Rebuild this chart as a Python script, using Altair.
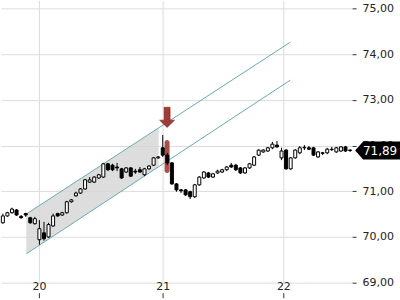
import altair as alt
import pandas as pd
import numpy as np

# ---- candle data (index = bar number, 0 = first bar of day 20) ----
idx = list(range(-8, 69))
opens = [70.31, 70.46, 70.53, 70.59, 70.45, 70.51, 70.42, 70.29,
         69.94, 70.09, 70.00, 70.24, 70.51, 70.48, 70.53, 70.77, 70.90, 70.96,
         71.05, 71.20, 71.20, 71.29, 71.31, 71.60, 71.57, 71.53, 71.49, 71.42,
         71.51, 71.44, 71.47, 71.36, 71.49, 71.57, 71.73,
         71.95, 71.79, 71.62, 71.16, 71.03, 71.03, 70.99, 70.88, 71.14, 71.29,
         71.40, 71.31, 71.40, 71.42, 71.47, 71.57, 71.57, 71.51, 71.40, 71.51,
         71.57, 71.79, 71.86, 71.88, 71.95, 72.01,
         71.73, 71.90, 71.49, 71.73, 71.84, 71.95, 71.95, 71.95, 71.75, 71.84,
         71.84, 71.91, 71.86, 71.88, 71.97, 71.90]
highs = [70.51, 70.55, 70.64, 70.61, 70.48, 70.53, 70.44, 70.44,
         70.37, 70.33, 70.31, 70.51, 70.53, 70.55, 70.79, 70.83, 70.99, 71.07,
         71.27, 71.31, 71.33, 71.38, 71.62, 71.62, 71.60, 71.62, 71.51, 71.53,
         71.53, 71.49, 71.53, 71.51, 71.57, 71.75, 71.77,
         72.23, 71.84, 71.64, 71.18, 71.05, 71.05, 71.01, 71.16, 71.33, 71.44,
         71.42, 71.40, 71.47, 71.49, 71.55, 71.62, 71.60, 71.53, 71.53, 71.62,
         71.77, 71.92, 71.92, 71.97, 72.08, 72.10,
         71.95, 71.92, 71.75, 71.92, 71.99, 72.01, 71.99, 71.97, 71.88, 71.86,
         71.95, 71.97, 71.97, 71.99, 71.99, 71.92]
lows = [70.29, 70.44, 70.51, 70.46, 70.40, 70.44, 70.29, 70.27,
        69.83, 69.92, 69.98, 70.22, 70.44, 70.46, 70.51, 70.75, 70.88, 70.94,
        71.03, 71.18, 71.18, 71.27, 71.29, 71.44, 71.44, 71.44, 71.27, 71.40,
        71.31, 71.38, 71.40, 71.33, 71.47, 71.55, 71.71,
        71.75, 71.57, 71.14, 70.99, 70.96, 70.90, 70.83, 70.85, 71.12, 71.27,
        71.29, 71.29, 71.38, 71.40, 71.44, 71.51, 71.44, 71.38, 71.38, 71.49,
        71.55, 71.77, 71.84, 71.86, 71.92, 71.95,
        71.68, 71.47, 71.47, 71.71, 71.81, 71.90, 71.90, 71.77, 71.73, 71.79,
        71.81, 71.88, 71.84, 71.86, 71.86, 71.86]
closes = [70.46, 70.53, 70.61, 70.48, 70.42, 70.48, 70.31, 70.40,
          70.18, 69.96, 70.27, 70.46, 70.46, 70.53, 70.77, 70.81, 70.96, 71.05,
          71.25, 71.25, 71.31, 71.36, 71.60, 71.47, 71.47, 71.51, 71.29, 71.51,
          71.33, 71.42, 71.42, 71.49, 71.55, 71.73, 71.75,
          71.79, 71.62, 71.16, 71.03, 71.01, 70.92, 70.88, 71.14, 71.31, 71.42,
          71.31, 71.38, 71.44, 71.47, 71.53, 71.53, 71.47, 71.40, 71.51, 71.60,
          71.75, 71.90, 71.90, 71.95, 72.03, 71.97,
          71.88, 71.49, 71.73, 71.90, 71.95, 71.96, 71.92, 71.79, 71.86, 71.83,
          71.92, 71.92, 71.95, 71.97, 71.88, 71.89]

# ---- axis ticks ----
day_labels = ["20", "21", "22"]
day_pos = [-0.1, 27.0, 53.4]
price_ticks = [69, 70, 71, 72, 73, 74, 75]

# ---- regression channel ----
chan_x = [-2.88, 54.91]
chan_upper = [70.50, 74.26]
chan_lower = [69.63, 73.43]
fill_end_x = 26.1

# ---- annotations ----
arrow_x, arrow_y = [27.95], [72.62]
hl_x, hl_x2, hl_y, hl_y2 = [27.40], [28.49], [72.12], [71.40]
last_price = closes[-1]

XDOM = [-8.406, 68.45]
YDOM = [69.0, 75.175]
xs = alt.Scale(domain=XDOM, nice=False, zero=False, padding=0)
ys = alt.Scale(domain=YDOM, nice=False, zero=False, padding=0)

df = pd.DataFrame({"i": idx, "open": opens, "high": highs, "low": lows, "close": closes})
df["dir"] = np.where(df["close"] >= df["open"], "up", "down")

label_expr = " : ".join(
    f"abs(datum.value - ({p})) < 0.5 ? '{l}'" for p, l in zip(day_pos, day_labels)
) + " : ''"

X_AX = alt.Axis(values=day_pos, labelExpr=label_expr, grid=True,
                gridColor="#dcdcdc", domain=False, tickSize=5,
                tickColor="#333", offset=10, labelPadding=-6,
                labelBaseline="bottom", labelFontSize=11,
                labelFont="DejaVu Sans", labelColor="#222")
Y_AX = alt.Axis(orient="right", values=price_ticks, grid=True,
                gridColor="#dcdcdc", domain=False, tickSize=4,
                tickColor="#333", labelPadding=6, labelFontSize=11,
                labelFont="DejaVu Sans", labelColor="#222",
                labelExpr="replace(format(datum.value, '.2f'), '.', ',')")


def X(f):
    return alt.X(f, type="quantitative", scale=xs, axis=X_AX, title=None)


def Y(f):
    return alt.Y(f, type="quantitative", scale=ys, axis=Y_AX, title=None)


fx = [chan_x[0], fill_end_x]
fill_df = pd.DataFrame({
    "i": fx,
    "u": np.interp(fx, chan_x, chan_upper),
    "l": np.interp(fx, chan_x, chan_lower),
})
fill = alt.Chart(fill_df).mark_area(color="#d4d4d4", opacity=0.8).encode(
    x=X("i"), y=Y("u"), y2="l:Q",
)

line_df = pd.DataFrame({
    "i": chan_x * 2,
    "v": chan_upper + chan_lower,
    "side": ["upper"] * 2 + ["lower"] * 2,
})
lines = alt.Chart(line_df).mark_line(color="#6aa9b0", strokeWidth=1).encode(
    x=X("i"), y=Y("v"), detail="side:N",
)

hl_df = pd.DataFrame({"x": hl_x, "x2": hl_x2, "y": hl_y, "y2": hl_y2})
highlight = alt.Chart(hl_df).mark_rect(color="#a23b33", opacity=0.9, cornerRadius=3).encode(
    x=X("x"), x2="x2:Q", y=Y("y"), y2="y2:Q",
)

wicks = alt.Chart(df).mark_rule(color="black", strokeWidth=1).encode(
    x=X("i"), y=Y("low"), y2="high:Q",
)
bodies = alt.Chart(df).mark_bar(size=3, stroke="black", strokeWidth=1).encode(
    x=X("i"), y=Y("open"), y2="close:Q",
    fill=alt.Fill("dir:N", scale=alt.Scale(domain=["up", "down"], range=["white", "black"]), legend=None),
)

arrow_df = pd.DataFrame({"x": arrow_x, "y": arrow_y})
arrow_path = "M-0.4,-1.33 L0.4,-1.33 L0.4,0.4 L1,0.4 L0,1.37 L-1,0.4 L-0.4,0.4 Z"
arrow = alt.Chart(arrow_df).mark_point(
    shape=arrow_path, size=225, filled=True, fill="#a23b33", stroke="#7d2822",
    strokeWidth=0.6, opacity=1,
).encode(x=X("x"), y=Y("y"))

tag_df = pd.DataFrame({"v": [last_price], "t": [f"{last_price:.2f}".replace(".", ",")]})
tag_path = "M-2.5,0 L-1.6,-1 L2.5,-1 L2.5,1 L-1.6,1 Z"
tag = alt.Chart(tag_df).mark_point(
    shape=tag_path, size=324, filled=True, fill="black", opacity=1, strokeWidth=0,
).encode(x=alt.value(377.5), y=Y("v"))
tag_text = alt.Chart(tag_df).mark_text(
    color="white", fontSize=12, font="DejaVu Sans", align="center", baseline="middle", dy=0.5,
).encode(x=alt.value(380), y=Y("v"), text="t:N")

chart = alt.layer(
    fill, lines, highlight, wicks, bodies, arrow, tag, tag_text
).properties(
    width=352, height=283, padding=0, background="white"
).configure_view(strokeWidth=0)

chart.save("out.html", embed_options={"renderer": "svg", "actions": False})
